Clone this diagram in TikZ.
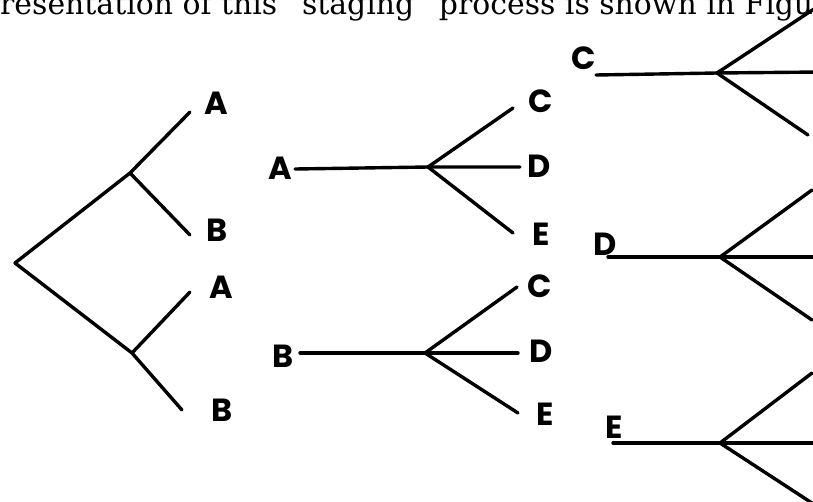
\documentclass[tikz,border=0pt]{standalone}
\usepackage{fontspec}
\usepackage{graphicx}
\newfontfamily\handfont{Poppins}
\newfontfamily\bookfont{DejaVu Serif}
\begin{document}
\begin{tikzpicture}[x=1pt,y=-1pt,
  branch/.style={line width=3.4pt,line cap=round,line join=round,black},
  letter/.style={inner sep=0pt,font=\handfont\bfseries\fontsize{32}{32}\selectfont}]
\useasboundingbox (0,0) rectangle (813,501);
\clip (0,0) rectangle (813,501);
\fill[white] (0,0) rectangle (813,501);
% top text line
\node[anchor=base west,inner sep=0pt] (toptext) at (0,14)
  {\resizebox{813pt}{!}{\bookfont resentation of this “staging” process is shown in Figu}};
% left tree
\coordinate (root) at (15,263);
\coordinate (j1) at (130,173);
\coordinate (j2) at (132,353);
\coordinate (eA1) at (190,112);
\coordinate (eB1) at (190,235);
\coordinate (eA2) at (190,292);
\coordinate (eB2) at (182,410);
\node[letter] (lA1) at (216,103) {A};
\node[letter] (lB1) at (217,230) {B};
\node[letter] (lA2) at (221,287) {A};
\node[letter] (lB2) at (222,410) {B};
\draw[branch] (eA1) -- (j1) -- (root) -- (j2) -- (eB2);
\draw[branch] (j1) -- (eB1);
\draw[branch] (j2) -- (eA2);
% middle A tree
\node[letter] (mA) at (280,168) {A};
\coordinate (mAs) at (295,169);
\coordinate (mAj) at (428,167);
\coordinate (mAc) at (513,108);
\coordinate (mAd) at (520,167);
\coordinate (mAe) at (513,233);
\node[letter] (mC1) at (541,101) {C};
\node[letter] (mD1) at (539,166) {D};
\node[letter] (mE1) at (541,234) {E};
\draw[branch] (mAs) -- (mAj) -- (mAd);
\draw[branch] (mAj) -- (mAc);
\draw[branch] (mAj) -- (mAe);
% middle B tree
\node[letter] (mB) at (283,356) {B};
\coordinate (mBs) at (300,353);
\coordinate (mBj) at (425,353);
\coordinate (mBc) at (517,287);
\coordinate (mBd) at (518,353);
\coordinate (mBe) at (518,413);
\node[letter] (mC2) at (540,286) {C};
\node[letter] (mD2) at (541,351) {D};
\node[letter] (mE2) at (545,414) {E};
\draw[branch] (mBs) -- (mBj) -- (mBd);
\draw[branch] (mBj) -- (mBc);
\draw[branch] (mBj) -- (mBe);
% right C tree
\node[letter] (rC) at (584,58) {C};
\coordinate (rCs) at (596,75);
\coordinate (rCj) at (717,73);
\coordinate (rCu) at (820,5);
\coordinate (rCm) at (820,72);
\coordinate (rCl) at (808,135);
\draw[branch] (rCs) -- (rCj) -- (rCm);
\draw[branch] (rCj) -- (rCu);
\draw[branch] (rCj) -- (rCl);
% right D tree
\node[letter] (rD) at (605,244) {D};
\coordinate (rDs) at (608,257);
\coordinate (rDj) at (720,257);
\coordinate (rDu) at (812,190);
\coordinate (rDm) at (820,257);
\coordinate (rDl) at (812,320);
\draw[branch] (rDs) -- (rDj) -- (rDm);
\draw[branch] (rDj) -- (rDu);
\draw[branch] (rDj) -- (rDl);
% right E tree
\node[letter] (rE) at (614,427) {E};
\coordinate (rEs) at (613,443);
\coordinate (rEj) at (720,443);
\coordinate (rEu) at (812,373);
\coordinate (rEm) at (820,443);
\coordinate (rEl) at (815,505);
\draw[branch] (rEs) -- (rEj) -- (rEm);
\draw[branch] (rEj) -- (rEu);
\draw[branch] (rEj) -- (rEl);
\end{tikzpicture}
\end{document}
